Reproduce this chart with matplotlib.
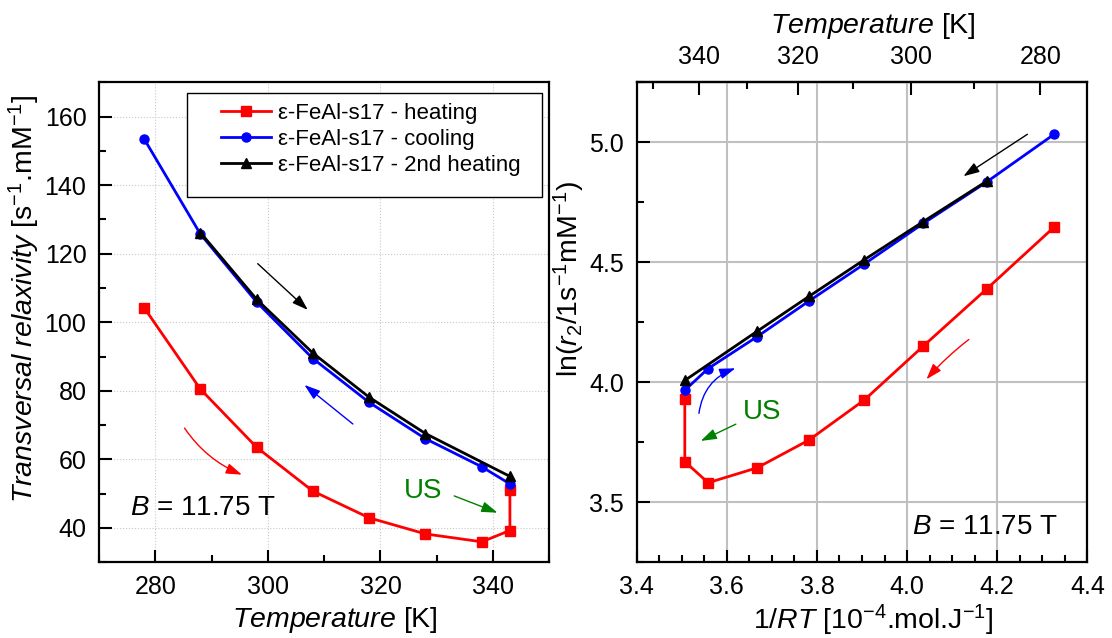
import numpy as np
import matplotlib
matplotlib.use('Agg')
import matplotlib.pyplot as plt
from matplotlib.patches import Rectangle
from matplotlib.ticker import MultipleLocator, FixedLocator, FormatStrFormatter

plt.rcParams['font.family'] = ['Liberation Sans', 'DejaVu Sans']
plt.rcParams['mathtext.fontset'] = 'custom'
plt.rcParams['mathtext.rm'] = 'Liberation Sans'
plt.rcParams['mathtext.it'] = 'Liberation Sans:italic'
plt.rcParams['mathtext.bf'] = 'Liberation Sans:bold'

R = 8.314  # J/(mol K)

# relaxivity r2 [s^-1 mM^-1] vs temperature [K]
T_heat = [278, 288, 298, 308, 318, 328, 338, 343, 343]
r2_heat = [104.3, 80.5, 63.5, 50.7, 42.9, 38.2, 35.9, 39.2, 50.9]

T_cool = [343, 338, 328, 318, 308, 298, 288, 278]
r2_cool = [52.8, 57.8, 66.0, 76.6, 89.4, 105.9, 125.8, 153.6]

T_heat2 = [288, 298, 308, 318, 328, 343]
r2_heat2 = [126.2, 106.7, 91.0, 78.1, 67.5, 55.0]

labels = ['ε-FeAl-s17 - heating', 'ε-FeAl-s17 - cooling', 'ε-FeAl-s17 - 2nd heating']
colors = ['#ff0000', '#0000ff', '#000000']
markers = ['s', 'o', '^']

TICK_FS = 18
LABEL_FS = 20.5


def inv_rt(T):
    # 1/RT in 10^-4 mol/J  (same form works both ways)
    T = np.asarray(T, dtype=float)
    with np.errstate(divide='ignore'):
        return 1e4 / (R * T)


series = [(T_heat, r2_heat), (T_cool, r2_cool), (T_heat2, r2_heat2)]

fig = plt.figure(figsize=(11.12, 6.38), dpi=100)
ax1 = fig.add_axes([0.0890, 0.1191, 0.4050, 0.7516])
ax2 = fig.add_axes([0.5726, 0.1191, 0.4052, 0.7516])

# ---- left panel : r2 vs T
for (T, r2), lab, c, m in zip(series, labels, colors, markers):
    ax1.plot(T, r2, '-', marker=m, color=c, lw=2, ms=7 if m == '^' else 6.5,
             label=lab, zorder=3)

ax1.set_xlim(270, 350)
ax1.set_ylim(30, 170)
ax1.xaxis.set_major_locator(MultipleLocator(20))
ax1.xaxis.set_minor_locator(MultipleLocator(10))
ax1.yaxis.set_major_locator(MultipleLocator(20))
ax1.yaxis.set_minor_locator(MultipleLocator(10))
ax1.grid(True, which='major', ls=':', color='#c8c8c8', lw=0.8)
ax1.set_axisbelow(True)
ax1.set_xlabel(r'$\mathit{Temperature}$ [K]', fontsize=LABEL_FS, labelpad=5, x=0.525)
ax1.set_ylabel(r'$\mathit{Transversal\ relaxivity}$ [s$^{-1}$.mM$^{-1}$]',
               fontsize=LABEL_FS, labelpad=2, y=0.55)

# legend: frame drawn separately, entries placed inside it
ax1.add_patch(Rectangle((0.195, 0.761), 0.788, 0.218, transform=ax1.transAxes,
                        facecolor='white', edgecolor='black', lw=1.0, zorder=4))
leg = ax1.legend(loc='upper left', bbox_to_anchor=(0.272, 0.957), fontsize=16,
                 frameon=False, handlelength=2.25, handletextpad=0.3, borderpad=0,
                 labelspacing=0.22, borderaxespad=0)
leg.set_zorder(5)

ax1.text(275.5, 45.7, r'$B$ = 11.75 T', fontsize=20, va='center')
ax1.text(324.2, 50.6, 'US', color='green', fontsize=20, va='center')

arr = dict(arrowstyle='-|>,head_length=0.6,head_width=0.2', lw=1,
           mutation_scale=16, shrinkA=0, shrinkB=0)
ax1.annotate('', xy=(307.1, 103.6), xytext=(298.2, 117.1),
             arrowprops=dict(arr, color='black'))
ax1.annotate('', xy=(306.5, 81.7), xytext=(315.1, 70.3),
             arrowprops=dict(arr, color='blue'))
ax1.annotate('', xy=(295.4, 55.5), xytext=(285.2, 69.1),
             arrowprops=dict(arr, color='red', connectionstyle='arc3,rad=0.15'))
ax1.annotate('', xy=(340.8, 44.4), xytext=(333.1, 49.3),
             arrowprops=dict(arr, color='green'))

# ---- right panel : ln(r2) vs 1/RT
for (T, r2), lab, c, m in zip(series, labels, colors, markers):
    ax2.plot(inv_rt(T), np.log(r2), '-', marker=m, color=c, lw=2,
             ms=7 if m == '^' else 6.5, zorder=3)

ax2.set_xlim(3.4, 4.4)
ax2.set_ylim(3.25, 5.25)
ax2.xaxis.set_major_locator(MultipleLocator(0.2))
ax2.xaxis.set_minor_locator(MultipleLocator(0.05))
ax2.yaxis.set_major_locator(MultipleLocator(0.5))
ax2.yaxis.set_minor_locator(MultipleLocator(0.25))
ax2.yaxis.set_major_formatter(FormatStrFormatter('%.1f'))
ax2.xaxis.set_major_formatter(FormatStrFormatter('%.1f'))
ax2.grid(True, which='major', color='#c0c0c0', lw=1.5)
ax2.set_axisbelow(True)
ax2.set_xlabel(r'1/$\mathit{RT}$ [10$^{-4}$.mol.J$^{-1}$]', fontsize=LABEL_FS,
               labelpad=3, x=0.525)
ax2.set_ylabel(r'ln($r_2$/1s$^{-1}$mM$^{-1}$)', fontsize=LABEL_FS, labelpad=2, y=0.59)

ax2.text(4.012, 3.397, r'$B$ = 11.75 T', fontsize=20, va='center')
ax2.text(3.636, 3.877, 'US', color='green', fontsize=20, va='center')

ax2.annotate('', xy=(4.125, 4.859), xytext=(4.267, 5.034),
             arrowprops=dict(arr, color='black'))
ax2.annotate('', xy=(4.043, 4.012), xytext=(4.137, 4.178),
             arrowprops=dict(arr, color='red', connectionstyle='arc3,rad=0.05'))
ax2.annotate('', xy=(3.619, 4.058), xytext=(3.538, 3.87),
             arrowprops=dict(arr, color='blue', connectionstyle='arc3,rad=-0.3'))
ax2.annotate('', xy=(3.542, 3.755), xytext=(3.62, 3.825),
             arrowprops=dict(arr, color='green'))

sec = ax2.secondary_xaxis('top', functions=(inv_rt, inv_rt))
sec.xaxis.set_major_locator(FixedLocator([280, 300, 320, 340]))
sec.xaxis.set_minor_locator(FixedLocator([290, 310, 330, 350]))
sec.set_xlabel(r'$\mathit{Temperature}$ [K]', fontsize=LABEL_FS, labelpad=8, x=0.525)
sec.tick_params(which='both', direction='in', width=1.5, labelsize=TICK_FS, pad=10)
sec.tick_params(which='major', length=9)
sec.tick_params(which='minor', length=5)
sec.spines['top'].set_linewidth(1.6)

for ax in (ax1, ax2):
    ax.tick_params(which='both', direction='in', top=False, right=False,
                   width=1.5, labelsize=TICK_FS, pad=9)
    ax.tick_params(which='major', length=9)
    ax.tick_params(which='minor', length=5)
    for s in ax.spines.values():
        s.set_linewidth(1.6)

fig.savefig('out.png', dpi=100)
